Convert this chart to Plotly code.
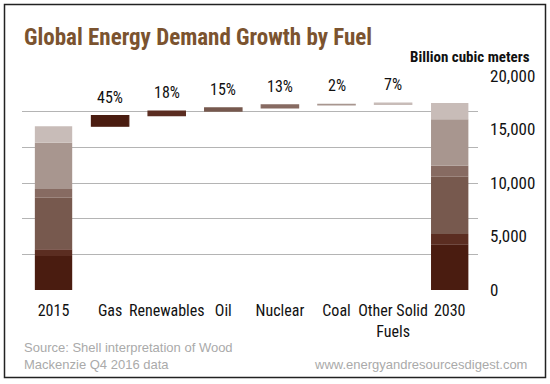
import plotly.graph_objects as go

# ---- data ----
categories = ["2015", "Gas", "Renewables", "Oil", "Nuclear", "Coal", "Other Solid Fuels", "2030"]
tick_text = ["2015", "Gas", "Renewables", "Oil", "Nuclear", "Coal", "Other Solid<br>Fuels", "2030"]
fuels = ["Gas", "Renewables", "Oil", "Nuclear", "Coal", "Other Solid Fuels"]
stack_2015 = [3170, 630, 4820, 810, 4330, 1550]
stack_2030 = [4270, 960, 5350, 1030, 4340, 1520]
growth = [990, 420, 300, 280, 40, 130]
growth_labels = ["45%", "18%", "15%", "13%", "2%", "7%"]
y_ticks = [0, 5000, 10000, 15000, 20000]
y_tick_text = ["0", "5,000", "10,000", "15,000", "20,000"]

colors = ["#4a1c10", "#5b2d21", "#77594e", "#876b62", "#a8968f", "#c8bcb8"]

COND = "Roboto Condensed, Liberation Sans Narrow, Roboto, sans-serif"
REG = "Liberation Sans, Arial, sans-serif"

fig = go.Figure()

base15 = 0
base30 = 0
for i, f in enumerate(fuels):
    fig.add_trace(go.Bar(
        x=["2015", "2030"], y=[stack_2015[i], stack_2030[i]],
        base=[base15, base30], width=0.66,
        marker=dict(color=colors[i], line=dict(width=0)),
        yaxis="y2", name=f, showlegend=False, hoverinfo="skip"))
    base15 += stack_2015[i]
    base30 += stack_2030[i]

bases = []
run = sum(stack_2015)
for g in growth:
    bases.append(run)
    run += g
fig.add_trace(go.Bar(
    x=categories[1:7], y=growth, base=bases, width=0.66,
    marker=dict(color=colors, line=dict(color=colors, width=1.2)),
    yaxis="y2", showlegend=False, hoverinfo="skip"))

for cat, b, g, lab in zip(categories[1:7], bases, growth, growth_labels):
    fig.add_annotation(x=cat, y=b + g, xref="x", yref="y2", text=lab,
                       showarrow=False, yanchor="bottom", yshift=7,
                       font=dict(family=COND, size=16, color="#111"))

fig.add_trace(go.Scatter(x=["2015"], y=[0], mode="markers",
                         marker=dict(opacity=0), showlegend=False, hoverinfo="skip"))

fig.update_layout(
    width=550, height=384, autosize=False,
    margin=dict(l=22, r=72, t=76, b=94, autoexpand=False),
    paper_bgcolor="white", plot_bgcolor="white",
    barmode="overlay",
    xaxis=dict(type="category", categoryorder="array", categoryarray=categories,
               tickvals=categories, ticktext=tick_text, tickangle=0, automargin=False,
               range=[-0.557, 7.5], showgrid=False, zeroline=False, showline=False,
               ticks="", ticklabelstandoff=9,
               tickfont=dict(family=COND, size=16, color="#111")),
    yaxis=dict(range=[0, 20000], tick0=0, dtick=20000 / 6, showgrid=True,
               gridcolor="#b4b4b4", gridwidth=1, showticklabels=False, automargin=False,
               zeroline=False, showline=False, ticks=""),
    yaxis2=dict(range=[0, 20000], overlaying="y", side="right", automargin=False,
                tickvals=y_ticks, ticktext=y_tick_text, showgrid=False,
                zeroline=False, showline=False, ticks="", ticklabelstandoff=11,
                tickfont=dict(family=COND, size=17, color="#111")),
)

fig.add_annotation(xref="paper", yref="paper", x=0, y=(290 - 37.5) / 214,
                   xanchor="left", yanchor="middle", showarrow=False,
                   text="<b>Global Energy Demand Growth by Fuel</b>",
                   font=dict(family=COND, size=23, color="#7b532f"))
fig.add_annotation(xref="paper", yref="paper", x=(532 - 22) / 456, y=(290 - 57) / 214,
                   xanchor="right", yanchor="middle", showarrow=False,
                   text="<b>Billion cubic meters</b>",
                   font=dict(family=COND, size=15, color="#111"))
fig.add_annotation(xref="paper", yref="paper", x=0, y=(290 - 338) / 214,
                   xanchor="left", yanchor="top", showarrow=False, align="left",
                   text="Source: Shell interpretation of Wood<br>Mackenzie Q4 2016 data",
                   font=dict(family=REG, size=13, color="#aaaaaa"))
fig.add_annotation(xref="paper", yref="paper", x=(529 - 22) / 456, y=(290 - 364) / 214,
                   xanchor="right", yanchor="middle", showarrow=False,
                   text="www.energyandresourcesdigest.com",
                   font=dict(family=REG, size=13, color="#aaaaaa"))

fig.add_shape(type="rect", xref="paper", yref="paper",
              x0=(4.5 - 22) / 456, x1=(545.5 - 22) / 456,
              y0=(290 - 377.5) / 214, y1=(290 - 4.5) / 214,
              line=dict(color="#222", width=1.5), fillcolor="rgba(0,0,0,0)", layer="above")

fig.write_html("out.html", config={"displayModeBar": False, "staticPlot": True},
               post_script="document.body.style.margin='0px';document.body.style.padding='0px';")
